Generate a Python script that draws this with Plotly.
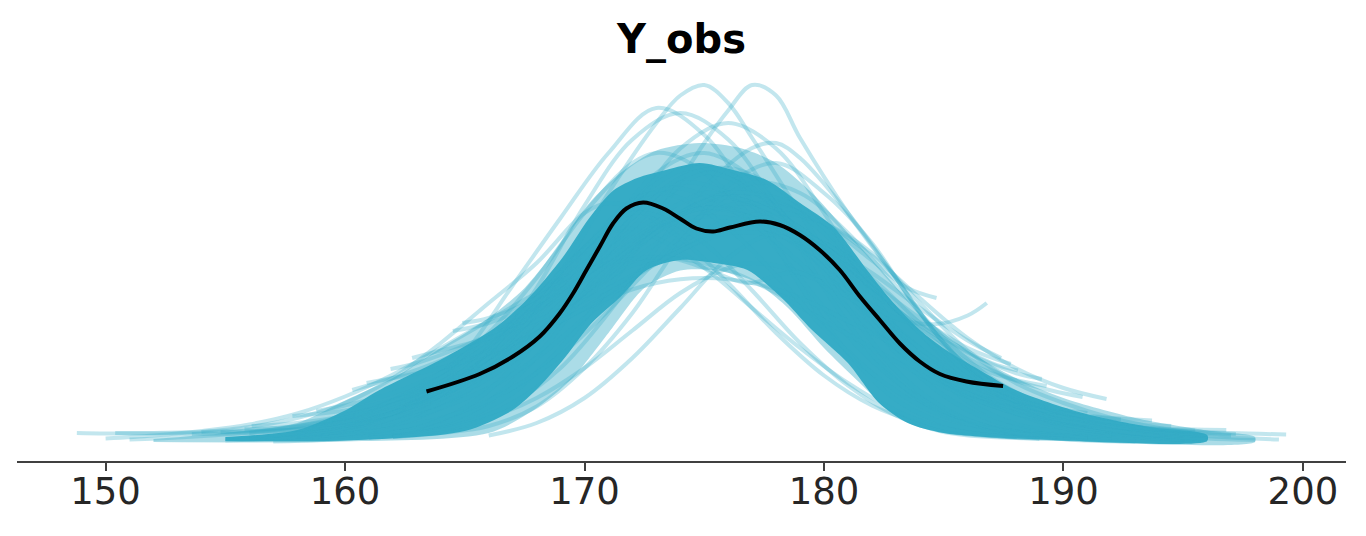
import plotly.graph_objects as go

# ---------------- data (density x 1000) ----------------
obs_x = [163.4, 165.62, 167.01, 168.13, 168.96, 169.52, 170.08, 170.64, 171.19, 171.75, 172.45,
         173.28, 173.98, 174.67, 175.37, 176.07, 177.32, 178.15, 178.99, 179.82, 180.66, 181.5,
         182.33, 183.17, 184.0, 184.84, 185.95, 187.48]
obs_y = [10.3, 13.8, 17.3, 21.3, 25.9, 29.9, 34.6, 39.3, 43.9, 46.9, 48.1, 46.9, 44.9, 42.9,
         42.3, 43.1, 44.3, 43.6, 41.6, 38.6, 34.6, 29.3, 24.6, 19.9, 16.3, 13.8, 12.3, 11.4]

# dense core of the posterior predictive band (upper / lower edges)
core_upper_x = [155, 158, 160, 161.4, 164.2, 166.3, 167.7, 169.1, 170.2, 171.2, 172.2, 173.4,
                174.8, 176.2, 177.6, 179, 180.4, 181.8, 182.9, 184, 185.1, 186.5, 188, 190.8,
                193.6, 196]
core_upper_y = [1.2, 2.6, 6.5, 10.5, 17.2, 23.2, 29.2, 37.2, 45, 50.5, 53, 54.6, 56, 54.6,
                52.6, 48, 43.2, 34.6, 28, 22.6, 18.6, 14.6, 10.6, 6, 3.2, 1.6]
core_lower_x = [155, 160, 165, 167, 168.1, 169.2, 170.3, 171.5, 172.6, 174, 175.4, 176.8,
                178.2, 179.5, 181, 182.3, 183.5, 185, 190, 196]
core_lower_y = [0.4, 0.5, 2.4, 6.6, 11.2, 17.2, 24, 29.2, 34.6, 36.6, 36, 34.6, 29.2, 22.6,
                16, 8, 4, 2, 0.5, 0.4]

# zone of frequent (overlapping but not solid) curves
mid_upper_x = [152, 155, 158, 160, 162, 164, 166, 167.5, 169, 170.2, 171.5, 173, 174.8, 176.5,
               178, 179.5, 181, 182.5, 184, 186, 188, 190, 193, 196, 198]
mid_upper_y = [0.8, 2, 4, 8.5, 13, 19, 25, 31, 40, 48, 54, 58.5, 60, 59, 56, 50, 42, 34, 26,
               18.5, 13, 9, 5, 2.5, 1.2]
mid_lower_x = [152, 160, 166, 168, 169.5, 171, 172.5, 174, 175.5, 177, 178.5, 180, 181.5, 183,
               185, 190, 198]
mid_lower_y = [0.2, 0.3, 2, 7, 13, 22, 31, 34.5, 34.5, 32.5, 27, 19, 12, 5.5, 2, 0.4, 0.2]

# individual posterior predictive KDE curves
pp_x = [
    [159, 161, 163, 165, 167, 169, 171, 173, 174, 175, 176, 177, 179, 181, 183, 185, 187, 189, 191],
    [161, 163, 165, 167, 169, 171, 173, 175, 176, 177, 178, 179, 181, 183, 185, 187, 189, 191, 193, 195],
    [156, 158, 160, 162, 164, 166, 168, 170, 172, 174, 176, 178, 180, 182, 184, 186, 188, 190, 192],
    [157, 159, 161, 163, 165, 167, 169, 171, 173, 175, 177, 179, 181, 183, 185, 187, 189, 191],
    [158, 160, 162, 164, 166, 168, 170, 172, 174, 176, 178, 180, 182, 184, 186, 188, 190, 192, 194, 196],
    [161, 163, 165, 167, 169, 171, 173, 175, 177, 178, 179, 181, 183, 185, 187, 189, 191, 193, 195, 197, 199.3],
    [148.8, 150, 152, 154, 156, 158, 160, 162, 164, 166, 168, 170, 172, 173, 174, 176, 178, 180, 182, 184, 186, 188, 190],
    [163, 164, 166, 168, 170, 172, 174, 176, 178, 180, 182, 184, 186, 188, 190, 192, 194, 196, 197],
    [154, 156, 158, 160, 162, 164, 166, 168, 170, 171, 172, 174, 176, 178, 180, 182, 184, 186, 188],
    [162, 164, 166, 168, 170, 172, 174, 176, 178, 180, 182, 184, 186, 188, 190, 192, 194, 196],
    [150, 152, 154, 156, 158, 160, 162, 164, 166, 168, 170, 172, 174, 176, 178, 180, 182, 184, 186, 188, 190, 192, 194, 196, 198],
    [151, 153, 155, 157, 159, 161, 163, 165, 167, 169, 171, 173, 175, 177, 179, 181, 183, 185, 187, 189, 191, 193, 195, 197, 199],
    [156, 158, 160, 162, 164, 166, 168, 170, 172, 173.5, 175, 176.8, 178.5, 180, 182, 184, 186, 188, 190, 192],
    [158, 160, 162, 164, 166, 168, 170, 171.5, 173, 175, 177, 179, 181, 183, 185, 187, 189],
    [166, 168, 170, 172, 174, 176, 178, 180, 182, 184, 186, 188, 190, 192, 194],
    [162, 164, 166, 168, 170, 172, 174, 176, 177, 178, 180, 182, 184, 186, 188, 190, 192, 194, 196],
    [150.4, 152, 154, 156, 158, 160, 162, 164, 166, 168, 170, 172, 174, 176, 178, 180, 182, 184, 186, 188, 190, 192, 194, 195.5],
    [153.6, 156, 158, 160, 162, 164, 166, 168, 170, 172, 174, 175, 176, 178, 180, 182, 184, 186, 188, 190, 192, 194, 196.8],
    [154.8, 156, 158, 160, 162, 164, 166, 168, 170, 172, 174, 176, 178, 180, 182, 184, 186, 188, 190, 192, 194.5],
    [155.8, 158, 160, 162, 164, 166, 168, 170, 172, 174, 175, 176, 178, 180, 182, 184, 186, 188, 190, 192, 193.7],
    [156.1, 158, 160, 162, 164, 166, 168, 170, 172, 173.5, 175, 177, 179, 181, 183, 185, 187, 189, 191, 192.4],
    [157.8, 160, 162, 164, 166, 168, 170, 172, 174, 176, 177, 178, 180, 182, 184, 186, 188, 190, 191.8],
    [158.8, 160, 162, 164, 166, 168, 170, 172, 174, 175, 176, 178, 180, 182, 184, 186, 188, 189.5, 190.8],
    [160.3, 162, 164, 166, 168, 170, 172, 174, 176, 178, 180, 182, 184, 186, 188, 189.1],
    [160.9, 162, 164, 166, 168, 170, 172, 174, 176, 177, 178, 180, 182, 184, 186, 187.4],
    [161.9, 163, 165, 167, 169, 171, 173, 175, 177, 179, 181, 183, 185, 187, 188.1],
    [162.8, 164, 166, 168, 170, 172, 174, 176, 178, 180, 182, 184, 186, 187.8],
    [164.5, 166, 168, 170, 172, 174, 175.5, 177, 179, 181, 183, 185, 187, 189.3],
    [164.9, 166, 168, 170, 172, 174, 176, 178, 180, 182, 184, 186, 188, 191],
    [160, 162, 164, 166, 168, 170, 172, 174, 176, 178, 180, 182, 183.5, 184.7],
    [163, 165, 167, 169, 171, 173, 175, 177, 179, 181, 183, 184.7, 186, 186.8],
    [156, 158, 160, 162, 164, 166, 168, 170, 172, 173, 174, 176, 178, 180, 182, 184, 186, 189],
    [159, 161, 163, 165, 167, 169, 171, 173, 175, 177, 179, 181, 183, 185, 187, 189, 191, 193, 195, 197.2],
    [157, 159, 161, 163, 165, 167, 169, 171, 173, 175, 177, 179, 181, 183, 185, 187, 189, 191, 193],
    [155, 157, 159, 161, 163, 165, 167, 169, 171, 172, 173, 175, 177, 179, 181, 183, 185, 187, 189, 191],
]
pp_y = [
    [1.2, 2.5, 5, 10, 20, 34, 50, 64, 69.5, 71.6, 68, 61, 46, 31, 18, 9.5, 4.5, 2.2, 1.1],
    [1.2, 2.5, 5, 10, 19, 31, 45, 60, 66.5, 71.6, 69.5, 61, 46, 33, 20, 11, 5.5, 2.6, 1.3, 0.6],
    [0.9, 1.5, 2.3, 4, 8.6, 17.8, 31, 47.5, 60.7, 66, 60.7, 47.5, 31, 17.8, 8.6, 4, 2.3, 1.5, 0.9],
    [1.5, 2.3, 4, 8.7, 18, 31.5, 45, 58, 67, 61.6, 48, 31.5, 18, 8.7, 4, 2.3, 1.5, 0.9],
    [0.9, 1.4, 2.2, 3.8, 8.3, 17.3, 30, 46, 58.9, 64, 58.9, 46, 30, 17.3, 8.3, 3.8, 2.2, 1.4, 0.9, 0.6],
    [1, 2, 4, 8, 15, 26, 39, 51, 59, 60, 57, 46, 33, 20, 12, 7.5, 4.8, 3.2, 2.4, 2, 1.7],
    [2, 1.9, 1.9, 2, 2.4, 3.2, 5, 8.5, 14, 22, 33, 46, 56, 58, 57, 50, 39, 27, 16.5, 9, 4.5, 2.2, 1.2],
    [5.5, 7, 11, 17, 25, 33, 40, 44.5, 46, 44, 38, 28, 18.5, 12, 8, 5, 3, 1.8, 1.5],
    [2.2, 3.2, 5, 8, 13, 20, 28, 36, 46, 48, 47, 41, 32, 22, 13.5, 7.5, 4, 2, 1.2],
    [1.2, 2, 3.4, 7.3, 15, 26, 40, 51.5, 56, 50, 40, 26, 15, 7.3, 3.4, 2, 1.2, 0.8],
    [0.9, 1.5, 2.4, 3.7, 5.9, 9.3, 13.7, 19, 24.5, 30, 34.5, 36.8, 36.8, 34.5, 30, 24.5, 19, 13.7, 9.3, 5.9, 3.7, 2.4, 1.5, 0.9, 0.6],
    [0.7, 1.1, 1.7, 2.6, 4.3, 6.6, 10.2, 14.5, 19.5, 24.4, 29, 32, 33, 32, 29, 24.4, 19.5, 14.5, 10.2, 6.6, 4.3, 2.6, 1.7, 1.1, 0.7],
    [1, 2, 3.5, 6, 10, 16, 23, 30, 35.5, 37, 35, 32, 34, 33, 27, 19, 11.5, 6, 3, 1.5],
    [1.5, 3, 6, 11, 19, 29, 39, 43, 41, 35, 27, 19, 12, 6.5, 3, 1.5, 0.8],
    [1.5, 4, 9, 17, 27, 37, 42, 40, 33, 24, 15.5, 9, 5, 2.6, 1.4],
    [1.2, 2.5, 5, 9, 15, 22.5, 30, 35, 36, 35.5, 32, 26, 19, 12.5, 7.5, 4.5, 2.6, 1.5, 0.8],
    [2, 2, 2.2, 2.6, 3.4, 5, 7.5, 11.5, 17, 24.5, 34, 45, 52, 50, 44, 35, 25, 16, 9.5, 6, 4.2, 3.2, 2.7, 2.5],
    [1.8, 2, 2.6, 3.8, 6, 9.5, 15, 23, 33, 43, 51.5, 54, 53, 47, 37, 26, 16.5, 10, 6.5, 4.5, 3.4, 2.9, 2.6],
    [2.2, 2.3, 2.7, 3.5, 5, 8, 13, 20, 29, 38, 46, 50, 48.5, 42, 32, 22, 14, 9, 6, 4.3, 3.4],
    [2.8, 3.2, 4.2, 6.5, 10.5, 17, 26, 37, 48, 54.5, 55, 54, 47, 36, 24, 15, 10, 7.5, 6, 5, 4.5],
    [3.4, 4, 5.5, 8.5, 13, 20, 29, 39, 47.5, 51, 49.5, 44, 36, 27, 19, 13, 9, 6.8, 5.3, 4.7],
    [5.4, 6.5, 8.5, 11.5, 16, 22, 29, 36.5, 43, 47.5, 48, 47.5, 44, 37.5, 29, 21, 15, 11, 8.8],
    [6.4, 7.5, 10, 14, 19.5, 26.5, 34.5, 42, 48, 50, 49.5, 46, 39.5, 31, 23, 17, 12.5, 10.5, 9.2],
    [10.6, 13, 16.5, 21, 26.5, 32.5, 39, 44.5, 45, 42, 36.5, 30, 23.5, 18, 14, 12.8],
    [12, 13, 15, 18, 22, 27, 33, 38.5, 43, 44, 43.5, 40, 34, 27, 20.5, 17],
    [14.8, 16, 19.5, 24, 30, 37, 43.5, 47, 46, 42, 35, 27.5, 21, 16, 14.5],
    [17, 18.5, 21, 24.5, 28.5, 33.5, 38.5, 42, 41.5, 38, 32, 25, 19, 15.8],
    [22.4, 24, 28, 33.5, 40, 46, 49, 48, 43, 35.5, 27, 19, 14, 11.4],
    [24, 25, 29, 36, 45, 53, 55, 51, 43, 32, 22, 13, 8.5, 6],
    [4, 6, 9.5, 14.5, 21.5, 30, 38.5, 45.5, 50, 49, 44, 36.5, 31, 29],
    [8, 12, 18, 26, 35, 43, 47, 45, 39, 31, 25, 23.8, 25.5, 28],
    [2, 2.8, 4.3, 7, 11.5, 18.5, 28, 39, 48.5, 50, 49, 43, 33.5, 23, 14, 7.5, 3.8, 1.5],
    [1.5, 2.3, 3.8, 6.5, 11, 17.5, 26.5, 36.5, 46, 52, 50, 42, 31.5, 21, 13, 8, 5, 3.2, 2.3, 1.8],
    [0.3, 0.6, 1.3, 3, 7, 15, 27, 42, 54, 58, 53, 41, 27, 14.5, 7, 3, 1.2, 0.5, 0.3],
    [0.5, 0.9, 1.8, 3.5, 7, 13, 22, 33, 43.5, 46, 45.5, 40, 30.5, 20, 11.5, 5.5, 2.2, 1.2, 0.9, 0.8],
]

x_ticks = [150, 160, 170, 180, 190, 200]
title_text = "Y_obs"

PP_COLOR = "#36acc6"

# ---------------- figure ----------------
# The page body has an 8px margin, so the figure is 16px smaller than the window.
FIG_W, FIG_H = 1350, 520

fig = go.Figure()

fig.add_trace(go.Scatter(
    x=mid_upper_x + mid_lower_x[::-1],
    y=mid_upper_y + mid_lower_y[::-1],
    mode="lines", fill="toself", fillcolor="rgba(54,172,198,0.42)",
    line=dict(width=0, shape="spline", smoothing=0.8),
    hoverinfo="skip", showlegend=False,
))
fig.add_trace(go.Scatter(
    x=core_upper_x + core_lower_x[::-1],
    y=core_upper_y + core_lower_y[::-1],
    mode="lines", fill="toself", fillcolor=PP_COLOR,
    line=dict(width=0, shape="spline", smoothing=0.8),
    hoverinfo="skip", showlegend=False,
))

for xs, ys in zip(pp_x, pp_y):
    fig.add_trace(go.Scatter(
        x=xs, y=ys, mode="lines",
        line=dict(color="rgba(54,172,198,0.3)", width=4, shape="spline", smoothing=1.0),
        hoverinfo="skip", showlegend=False,
    ))

fig.add_trace(go.Scatter(
    x=obs_x, y=obs_y, mode="lines",
    line=dict(color="black", width=4, shape="spline", smoothing=1.0),
    showlegend=False,
))

fig.update_layout(
    width=FIG_W, height=FIG_H,
    margin=dict(l=9, r=12, t=59, b=67),
    paper_bgcolor="white", plot_bgcolor="white",
    font=dict(family="DejaVu Sans", color="#262626"),
    title=dict(text="<b>" + title_text + "</b>", x=0.5, xref="paper", xanchor="center",
               y=1 - 30.5 / FIG_H, yref="container", yanchor="middle",
               font=dict(family="DejaVu Sans", size=40, color="black")),
)
fig.update_xaxes(
    range=[146.3, 201.8], tickvals=x_ticks, ticktext=[str(v) for v in x_ticks],
    ticks="outside", ticklen=8, tickwidth=2, tickcolor="#404040",
    showline=True, linecolor="#404040", linewidth=2,
    showgrid=False, zeroline=False, ticklabelstandoff=-11,
    tickfont=dict(family="DejaVu Sans", size=37, color="#262626"),
)
fig.update_yaxes(visible=False, range=[-3.6, 75.2])

fig.write_html("out.html")
